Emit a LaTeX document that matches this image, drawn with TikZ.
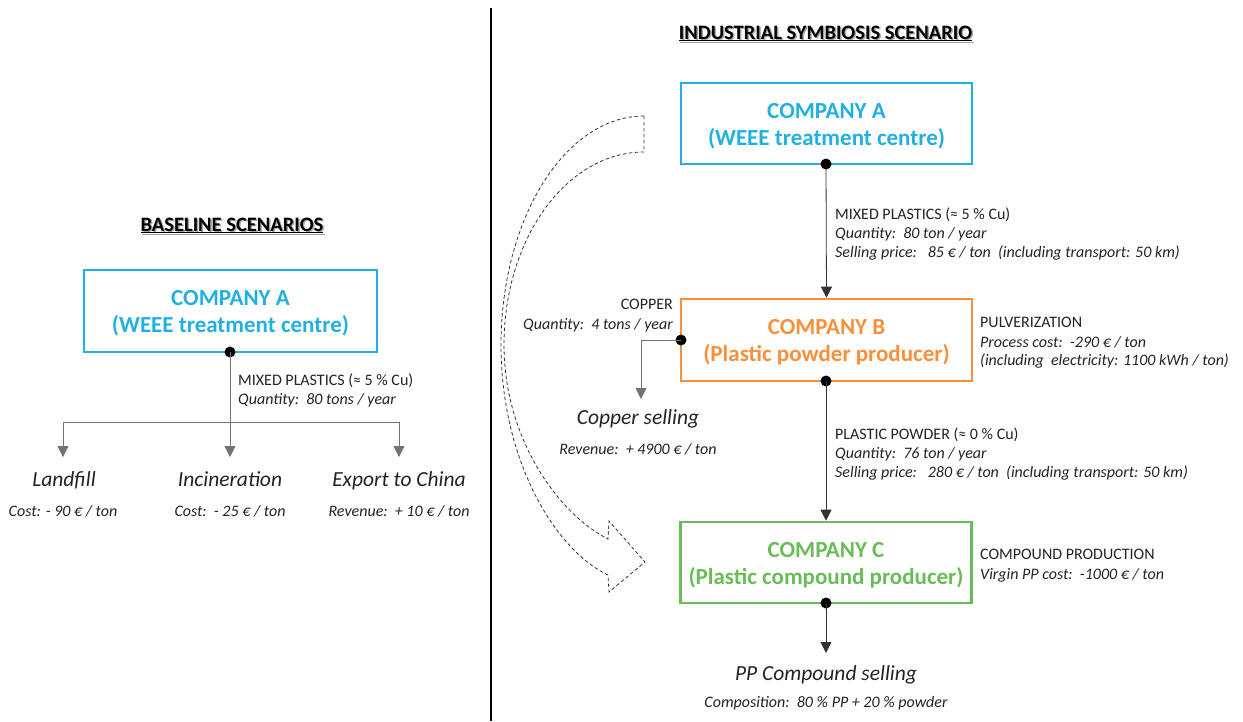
\documentclass[tikz,border=0pt]{standalone}
\usepackage{fontspec}
\setmainfont{Carlito}
\usetikzlibrary{arrows.meta}
\definecolor{cA}{RGB}{33,176,224}
\definecolor{cB}{RGB}{247,144,58}
\definecolor{cC}{RGB}{104,189,88}
\definecolor{txt}{RGB}{35,35,35}
\newcommand{\firststrut}{\rule{0pt}{20pt}}
\begin{document}
\begin{tikzpicture}[x=1pt,y=-1pt,
  company/.style={draw, line width=2.6pt, inner sep=0pt, align=center,
    minimum width=291pt, minimum height=81pt,
    font=\fontsize{23}{27}\selectfont\bfseries},
  dot/.style={circle, fill=black, inner sep=0pt, minimum size=11pt},
  lab/.style={inner sep=0pt, text=txt, font=\fontsize{16}{19}\selectfont},
  labit/.style={inner sep=0pt, text=txt, font=\fontsize{16}{19}\selectfont\itshape},
  outcome/.style={inner sep=0pt, text=txt, font=\fontsize{21.5}{24}\selectfont\itshape},
  ttl/.style={inner sep=0pt, font=\fontsize{20.5}{23}\selectfont\bfseries},
  flow/.style={line width=0.8pt, draw=black!80},
  gflow/.style={line width=0.9pt, draw=black!55},
  tip/.style={-{Triangle[length=11pt,width=11pt]}},
  bigarrow/.style={draw=black!80, line width=0.8pt, dash pattern=on 3.5pt off 2.5pt}
]
\useasboundingbox (0,0) rectangle (1243,721);

% divider
\draw[line width=2.6pt] (491,8) coordinate (divtop) -- (491,721) coordinate (divbot);

% ---------------- BASELINE ----------------
\node[ttl, text=black!35, anchor=base] (bsh) at (233.5,232.5) {\underline{BASELINE SCENARIOS}};
\node[ttl, anchor=base] (bt) at (232,231) {\underline{BASELINE SCENARIOS}};

\node[company, draw=cA, text=cA, minimum width=293pt, minimum height=82pt] (LA) at (230.5,311) {\firststrut COMPANY A\\(WEEE treatment centre)};
\node[dot] (dLA) at (230,352) {};

\coordinate (split) at (230,422);
\coordinate (tLand) at (63,457);
\coordinate (tInc) at (230,457);
\coordinate (tExp) at (399,457);
\draw[gflow] (dLA.center) -- (split);
\draw[gflow, tip] (split) -- (tInc);
\draw[gflow, tip] (split) -| (tLand);
\draw[gflow, tip] (split) -| (tExp);

\node[lab, anchor=base west] (lmp) at (238,385) {MIXED PLASTICS (≈ 5 \% Cu)};
\node[labit, anchor=base west] (lq) at (238,404) {Quantity:\ \ 80 tons / year};

\node[outcome, anchor=base] (land) at (64,486) {Landfill};
\node[outcome, anchor=base] (inc) at (230,486) {Incineration};
\node[outcome, anchor=base] (exp) at (399,486) {Export to China};
\node[labit, anchor=base] (landc) at (63,516) {Cost: - 90 € / ton};
\node[labit, anchor=base] (incc) at (230,516) {Cost:\ \ - 25 € / ton};
\node[labit, anchor=base] (expc) at (399,516) {Revenue:\ \ + 10 € / ton};

% ---------------- INDUSTRIAL SYMBIOSIS ----------------
\node[ttl, text=black!35, anchor=base] (ish) at (827,40.5) {\underline{INDUSTRIAL SYMBIOSIS SCENARIO}};
\node[ttl, anchor=base] (ist) at (825.5,39) {\underline{INDUSTRIAL SYMBIOSIS SCENARIO}};

\node[company, draw=cA, text=cA] (A) at (826.5,123.5) {\firststrut COMPANY A\\(WEEE treatment centre)};
\node[company, draw=cB, text=cB, minimum height=82pt] (B) at (826.5,340) {\firststrut COMPANY B\\(Plastic powder producer)};
\node[company, draw=cC, text=cC] (C) at (826,562.5) {\firststrut COMPANY C\\(Plastic compound producer)};

\node[dot] (dA) at (826,164) {};
\node[dot] (dB) at (826,381) {};
\node[dot] (dBw) at (681,340) {};
\node[dot] (dC) at (826,603) {};

\draw[flow, tip] (dA.center) -- (B.north);
\draw[flow, tip] (dB.center) -- (C.north);
\coordinate (tPP) at (826,653);
\draw[flow, tip] (dC.center) -- (tPP);
\coordinate (tCu) at (641,399);
\draw[gflow, tip] (dBw.center) -| (tCu);

% A -> B label
\node[lab, anchor=base west] (m1) at (835,219) {MIXED PLASTICS (≈ 5 \% Cu)};
\node[labit, anchor=base west] (m2) at (835,238) {Quantity:\ \ 80 ton / year};
\node[labit, anchor=base west] (m3) at (835,257) {Selling price:\ \ \ 85 € / ton\ \ (including transport: 50 km)};

% copper
\node[lab, anchor=base east] (cu1) at (673,309) {COPPER};
\node[labit, anchor=base east] (cu2) at (673,329) {Quantity:\ \ 4 tons / year};
\node[outcome, anchor=base] (cus) at (638,424) {Copper selling};
\node[labit, anchor=base] (cur) at (638,454) {Revenue:\ \ + 4900 € / ton};

% pulverization
\node[lab, anchor=base west] (p1) at (980,327) {PULVERIZATION};
\node[labit, anchor=base west] (p2) at (980,347) {Process cost:\ \ -290 € / ton};
\node[labit, anchor=base west] (p3) at (980,365) {(including\ \ electricity: 1100 kWh / ton)};

% B -> C label
\node[lab, anchor=base west] (pp1) at (835,439) {PLASTIC POWDER (≈ 0 \% Cu)};
\node[labit, anchor=base west] (pp2) at (835,458) {Quantity:\ \ 76 ton / year};
\node[labit, anchor=base west] (pp3) at (835,477) {Selling price:\ \ \ 280 € / ton\ \ (including transport: 50 km)};

% compound production
\node[lab, anchor=base west] (cp1) at (980,559) {COMPOUND PRODUCTION};
\node[labit, anchor=base west] (cp2) at (980,579) {Virgin PP cost:\ \ -1000 € / ton};

% PP compound
\node[outcome, anchor=base] (pps) at (826,680) {PP Compound selling};
\node[labit, anchor=base] (ppc) at (826,707) {Composition:\ \ 80 \% PP + 20 \% powder};

% curved dashed block arrow
\draw[bigarrow] (644,116) .. controls (565,116) and (501,219) .. (501,345)
  .. controls (501,460) and (555,550) .. (608,575)
  -- (609,592) -- (645,562) -- (609,521) -- (608,539)
  .. controls (560,515) and (504,440) .. (504,345)
  .. controls (504,238) and (567,152) .. (644,152) -- cycle;
\end{tikzpicture}
\end{document}
